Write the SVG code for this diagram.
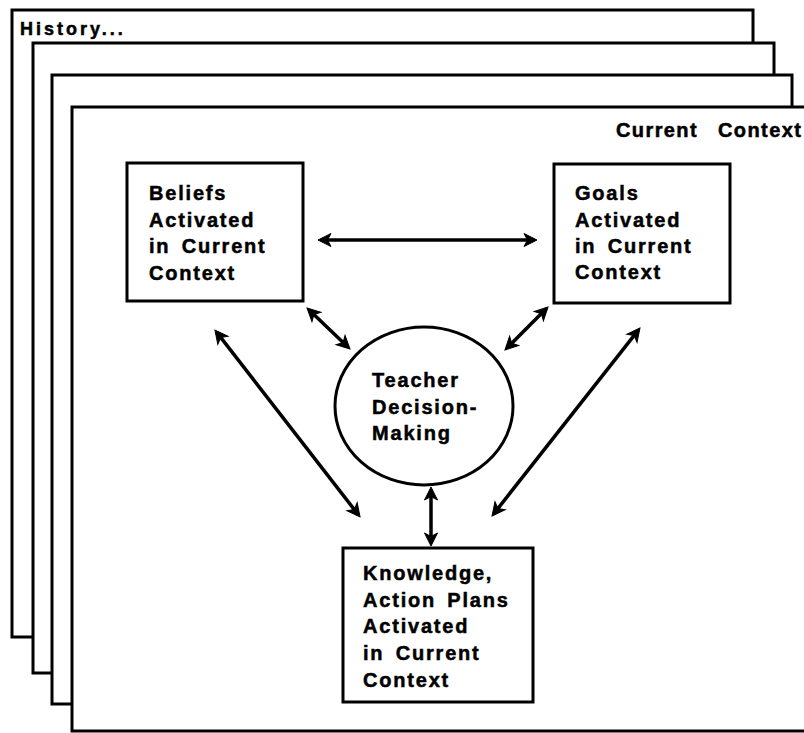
<svg xmlns="http://www.w3.org/2000/svg" width="804" height="733" viewBox="0 0 804 733">
  <style>
    .page { fill: #fff; stroke: #000; stroke-width: 3; }
    .box { fill: #fff; stroke: #000; stroke-width: 3; }
    .lbl { font-family: "Liberation Sans", Arial, sans-serif; font-weight: bold; font-size: 20px; letter-spacing: 1.8px; word-spacing: 4px; fill: #000; stroke: #000; stroke-width: 0.5; }
    .conn { stroke: #000; stroke-width: 3.5; fill: none; marker-start: url(#head); marker-end: url(#head); }
  </style>
  <defs>
    <marker id="head" markerUnits="userSpaceOnUse" viewBox="-12 -8 16 16" refX="0" refY="0" markerWidth="16" markerHeight="16" orient="auto-start-reverse" overflow="visible">
      <path d="M3,0 L-10,-6.5 L-6.5,0 L-10,6.5 Z" fill="#000" stroke="#000" stroke-width="1" stroke-linejoin="miter"/>
    </marker>
  </defs>
  <rect width="804" height="733" fill="#fff"/>

  <!-- stacked context pages -->
  <g id="history">
    <rect class="page" x="12" y="10" width="741" height="627"/>
    <text class="lbl" x="20" y="35" style="font-size:18px;letter-spacing:3px">History...</text>
    <rect class="page" x="33" y="43" width="741" height="630"/>
    <rect class="page" x="52" y="75" width="740" height="629"/>
  </g>
  <g id="current-context">
    <rect class="page" x="72" y="107" width="800" height="624"/>
    <text class="lbl" x="616" y="137" style="letter-spacing:1.4px">Current<tspan x="718">Context</tspan></text>
  </g>

  <!-- nodes -->
  <g id="beliefs">
    <rect class="box" x="127" y="163" width="176" height="138"/>
    <text class="lbl">
      <tspan x="149" y="200">Beliefs</tspan>
      <tspan x="149" y="227">Activated</tspan>
      <tspan x="149" y="253">in  Current</tspan>
      <tspan x="149" y="280">Context</tspan>
    </text>
  </g>
  <g id="goals">
    <rect class="box" x="554" y="164" width="176" height="139"/>
    <text class="lbl">
      <tspan x="575" y="200">Goals</tspan>
      <tspan x="575" y="227">Activated</tspan>
      <tspan x="575" y="253">in  Current</tspan>
      <tspan x="575" y="279">Context</tspan>
    </text>
  </g>
  <g id="decision">
    <ellipse class="box" cx="424" cy="406" rx="89" ry="79"/>
    <text class="lbl">
      <tspan x="372" y="387">Teacher</tspan>
      <tspan x="372" y="414">Decision-</tspan>
      <tspan x="372" y="440">Making</tspan>
    </text>
  </g>
  <g id="knowledge">
    <rect class="box" x="343" y="548" width="190" height="154"/>
    <text class="lbl">
      <tspan x="363" y="580">Knowledge,</tspan>
      <tspan x="363" y="607">Action  Plans</tspan>
      <tspan x="363" y="633">Activated</tspan>
      <tspan x="363" y="660">in  Current</tspan>
      <tspan x="363" y="687">Context</tspan>
    </text>
  </g>

  <!-- two-way connectors -->
  <g id="connectors">
    <line class="conn" x1="321" y1="240" x2="534" y2="240"/>
    <line class="conn" x1="309.2" y1="310.1" x2="347.8" y2="346.9"/>
    <line class="conn" x1="545.9" y1="309.1" x2="507.1" y2="347.9"/>
    <line class="conn" x1="216.8" y1="332.4" x2="358.2" y2="514.6"/>
    <line class="conn" x1="638.1" y1="330.4" x2="493.9" y2="513.6"/>
    <line class="conn" x1="431" y1="490" x2="431" y2="543"/>
  </g>
</svg>
